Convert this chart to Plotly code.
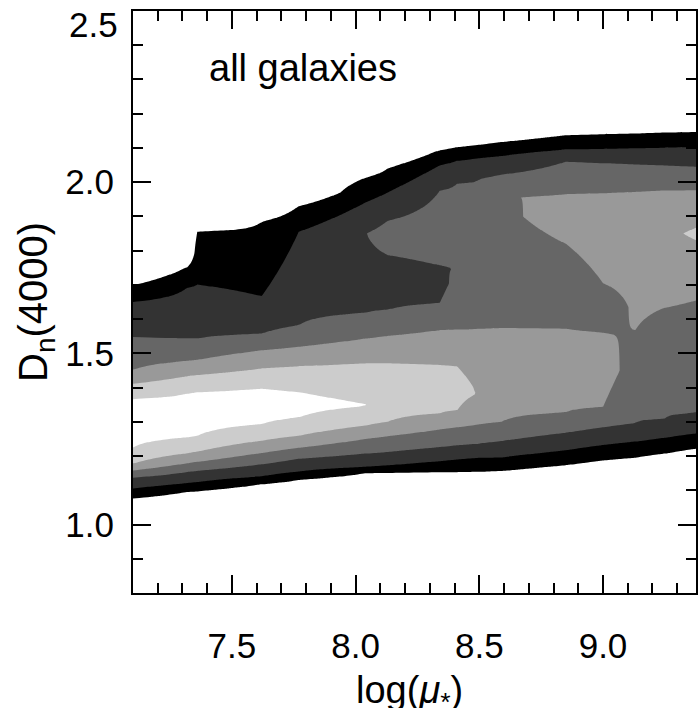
import numpy as np
import plotly.graph_objects as go

# ---- data: density profiles ----
# x positions (log mu*) of the profile columns
col_x = [7.10, 7.32, 7.36, 7.62, 7.77, 8.04, 8.13, 8.34, 8.41, 8.50,
         8.59, 8.85, 9.00, 9.13, 9.25, 9.38, 9.52]

# per column: D_n(4000) knots (top -> bottom) and the density level there
p710_y = [1.699, 1.650, 1.548, 1.452, 1.411, 1.367, 1.294, 1.225, 1.178, 1.158, 1.137, 1.105, 1.076]
p710_z = [1, 2, 3, 4, 5, 6, 6.5, 6, 5, 4, 3, 2, 1]
p732_y = [1.752, 1.692, 1.543, 1.478, 1.433, 1.383, 1.319, 1.254, 1.208, 1.179, 1.154, 1.121, 1.095]
p732_z = [1, 2, 3, 4, 5, 6, 6.5, 6, 5, 4, 3, 2, 1]
p736_y = [1.855, 1.701, 1.543, 1.481, 1.437, 1.387, 1.324, 1.259, 1.213, 1.183, 1.157, 1.124, 1.097]
p736_z = [1, 2, 3, 4, 5, 6, 6.5, 6, 5, 4, 3, 2, 1]
p762_y = [1.884, 1.667, 1.557, 1.509, 1.456, 1.397, 1.345, 1.293, 1.245, 1.209, 1.176, 1.141, 1.118]
p762_z = [1, 2, 3, 4, 5, 6, 6.5, 6, 5, 4, 3, 2, 1]
p777_y = [1.930, 1.855, 1.582, 1.519, 1.463, 1.387, 1.350, 1.313, 1.259, 1.224, 1.192, 1.155, 1.130]
p777_z = [1, 2, 3, 4, 5, 6, 6.3, 6, 5, 4, 3, 2, 1]
p804_y = [2.013, 1.941, 1.850, 1.733, 1.618, 1.543, 1.471, 1.348, 1.289, 1.250, 1.207, 1.168, 1.150]
p804_z = [1, 2, 2.98, 2.6, 3, 4, 5, 6.03, 5, 4, 3, 2, 1]
p813_y = [2.040, 1.970, 1.887, 1.840, 1.787, 1.713, 1.627, 1.551, 1.471, 1.392, 1.300, 1.258, 1.212, 1.172, 1.151]
p813_z = [1, 2, 3, 3.4, 3, 2.6, 3, 4, 5, 5.7, 5, 4, 3, 2, 1]
p834_y = [2.093, 2.049, 1.975, 1.869, 1.757, 1.704, 1.647, 1.568, 1.466, 1.402, 1.325, 1.278, 1.226, 1.185, 1.153]
p834_z = [1, 2, 3, 3.5, 3, 2.7, 3, 4, 5, 5.5, 5, 4, 3, 2, 1]
p841_y = [2.102, 2.063, 1.996, 1.889, 1.748, 1.569, 1.462, 1.402, 1.333, 1.284, 1.231, 1.190, 1.153]
p841_z = [1, 2, 3, 3.5, 3.02, 4, 5, 5.4, 5, 4, 3, 2, 1]
p850_y = [2.109, 2.070, 2.009, 1.791, 1.571, 1.382, 1.292, 1.236, 1.195, 1.154]
p850_z = [1, 2, 3, 3.5, 4, 4.95, 4, 3, 2, 1]
p859_y = [2.117, 2.077, 2.022, 1.957, 1.772, 1.574, 1.441, 1.300, 1.244, 1.196, 1.156]
p859_z = [1, 2, 3, 3.98, 3.4, 4, 4.6, 4, 3, 2, 1]
p885_y = [2.137, 2.096, 2.060, 1.965, 1.899, 1.820, 1.694, 1.572, 1.450, 1.327, 1.268, 1.217, 1.173]
p885_z = [1, 2, 3, 4, 4.4, 4, 3.5, 4, 4.5, 4, 3, 2, 1]
p900_y = [2.140, 2.097, 2.056, 1.969, 1.840, 1.705, 1.635, 1.560, 1.450, 1.343, 1.284, 1.232, 1.187]
p900_z = [1, 2, 3, 4, 4.4, 4, 3.6, 4, 4.4, 4, 3, 2, 1]
p913_y = [2.142, 2.099, 2.052, 1.973, 1.860, 1.567, 1.441, 1.296, 1.242, 1.195]
p913_z = [1, 2, 3, 4, 4.45, 4, 3.6, 3, 2, 1]
p925_y = [2.145, 2.101, 2.049, 1.976, 1.850, 1.633, 1.480, 1.310, 1.253, 1.207]
p925_z = [1, 2, 3, 4, 4.8, 4, 3.5, 3, 2, 1]
p938_y = [2.147, 2.103, 2.045, 1.977, 1.868, 1.850, 1.830, 1.655, 1.499, 1.326, 1.266, 1.222]
p938_z = [1, 2, 3, 4, 5, 5.15, 5, 4, 3.5, 3, 2, 1]
p952_y = [2.149, 2.105, 2.042, 1.979, 1.889, 1.850, 1.811, 1.665, 1.499, 1.338, 1.280, 1.236]
p952_z = [1, 2, 3, 4, 5, 5.4, 5, 4, 3.5, 3, 2, 1]

contour_levels = [1, 2, 3, 4, 5, 6]
band_colors = ["#ffffff", "#000000", "#333333", "#666666", "#999999", "#cccccc", "#ffffff"]

x_ticks = [7.5, 8.0, 8.5, 9.0]
x_ticktext = ["7.5", "8.0", "8.5", "9.0"]
y_ticks = [1.0, 1.5, 2.0]
y_ticktext = ["1.0", "1.5", "2.0"]

# ---- build grid ----
profiles = [(p710_y, p710_z), (p732_y, p732_z), (p736_y, p736_z), (p762_y, p762_z),
            (p777_y, p777_z), (p804_y, p804_z), (p813_y, p813_z), (p834_y, p834_z),
            (p841_y, p841_z), (p850_y, p850_z), (p859_y, p859_z), (p885_y, p885_z),
            (p900_y, p900_z), (p913_y, p913_z), (p925_y, p925_z), (p938_y, p938_z),
            (p952_y, p952_z)]

y_grid = np.round(np.arange(0.80, 2.5001, 0.005), 3)
Z = np.zeros((len(y_grid), len(col_x)))
for j, (ky, kz) in enumerate(profiles):
    ky = np.asarray(ky, float)
    kz = np.asarray(kz, float)
    ky_full = np.concatenate([[ky[0] + 0.04], ky, [ky[-1] - 0.04]])
    kz_full = np.concatenate([[0.0], kz, [0.0]])
    order = np.argsort(ky_full)
    Z[:, j] = np.interp(y_grid, ky_full[order], kz_full[order], left=0, right=0)

n = len(band_colors) - 1
colorscale = [[i / n, c] for i, c in enumerate(band_colors)]

fig = go.Figure()
fig.add_trace(go.Contour(
    x=col_x, y=y_grid, z=Z,
    autocontour=False,
    contours=dict(start=contour_levels[0], end=contour_levels[-1], size=1,
                  coloring="fill", showlines=False),
    line=dict(width=0, smoothing=0),
    colorscale=colorscale, showscale=False, hoverinfo="skip",
))

FONT = "Liberation Sans, Arial, sans-serif"
axis_common = dict(showline=True, linewidth=2, linecolor="black", mirror="allticks",
                   ticks="inside", ticklen=18, tickwidth=2, tickcolor="black",
                   showgrid=False, zeroline=False,
                   tickfont=dict(family=FONT, size=35, color="black"))

# the panel is cut at the right edge of the picture (axis runs on to ~9.4)
fig.update_xaxes(range=[7.1, 9.376], tickmode="array", tickvals=x_ticks, ticktext=x_ticktext,
                 minor=dict(tickmode="linear", tick0=7.0, dtick=0.1, ticks="inside",
                            ticklen=10, tickwidth=2, tickcolor="black"),
                 ticklabelstandoff=21, **axis_common)
fig.update_yaxes(range=[0.8, 2.5], tickmode="array", tickvals=y_ticks, ticktext=y_ticktext,
                 minor=dict(tickmode="linear", tick0=0.8, dtick=0.1, ticks="inside",
                            ticklen=10, tickwidth=2, tickcolor="black"),
                 ticklabelstandoff=10, **axis_common)

fig.update_layout(
    width=698, height=708,
    margin=dict(l=133, r=0, t=11, b=115),
    paper_bgcolor="white", plot_bgcolor="white",
    showlegend=False,
    font=dict(family=FONT, color="black"),
    annotations=[
        dict(text="all galaxies", x=7.40, y=2.333, xref="x", yref="y",
             xanchor="left", yanchor="middle", showarrow=False,
             font=dict(family=FONT, size=38, color="black")),
        dict(text="2.5", x=0, y=2.5, xref="paper", yref="y", xanchor="right",
             yanchor="middle", xshift=-13, yshift=-13, showarrow=False,
             font=dict(family=FONT, size=35, color="black")),
        dict(text="log(<i>μ</i><sub>*</sub>)", x=0.5, y=0, xref="paper", yref="paper",
             xanchor="center", yanchor="middle", yshift=-100, xshift=-5, showarrow=False,
             font=dict(family=FONT, size=38, color="black")),
        dict(text="D<sub>n</sub>(4000)", x=0, y=0.5, xref="paper", yref="paper",
             xanchor="center", yanchor="middle", xshift=-97, textangle=-90,
             showarrow=False, font=dict(family=FONT, size=40, color="black")),
    ],
)

fig.write_html("out.html",
               config={"displayModeBar": False, "responsive": False},
               post_script="document.body.style.margin='0';document.body.style.overflow='hidden';")
